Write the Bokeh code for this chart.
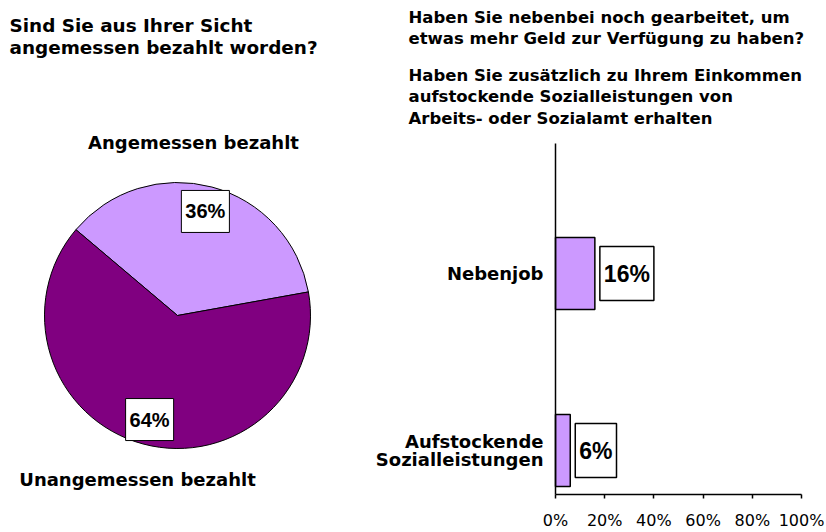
import math
from bokeh.plotting import figure
from bokeh.models import (Range1d, Label, FixedTicker, PrintfTickFormatter,
                          ColumnDataSource, LinearAxis)
from bokeh.embed import file_html
from bokeh.resources import INLINE

# ---------------- data ----------------
pie_title = ["Sind Sie aus Ihrer Sicht", "angemessen bezahlt worden?"]
pie_cats = ["Angemessen bezahlt", "Unangemessen bezahlt"]
pie_vals = [36, 64]
pie_colors = ["#CC99FF", "#800080"]

bar_title1 = ["Haben Sie nebenbei noch gearbeitet, um",
              "etwas mehr Geld zur Verfügung zu haben?"]
bar_title2 = ["Haben Sie zusätzlich zu Ihrem Einkommen",
              "aufstockende Sozialleistungen von",
              "Arbeits- oder Sozialamt erhalten"]
bar_cats = ["Nebenjob", "Aufstockende\nSozialleistungen"]
bar_vals = [16, 6]
x_ticks = [0, 20, 40, 60, 80, 100]

BOLD = "DejaVu Sans"
PCT = "Liberation Sans"

W, H = 826, 532

# one canvas; default ranges are page pixels (y up)
p = figure(width=W, height=H, x_range=Range1d(0, W), y_range=Range1d(0, H),
           output_backend="svg", toolbar_location=None, min_border=0,
           x_axis_location=None, y_axis_location=None)
p.xgrid.grid_line_color = None
p.ygrid.grid_line_color = None
p.outline_line_color = None


def py(sy):  # page row -> canvas data y
    return H - sy


# bar-chart scales: 0% at x=555, 100% at x=801; categories 177px apart
PX0, PX100 = 555, 801
kx = (PX100 - PX0) / 100.0
p.extra_x_ranges["pct"] = Range1d(-PX0 / kx, (W - PX0) / kx)
CAT0_Y, CAT_STEP = 450, 177      # page row of category 0 centre, px per category
p.extra_y_ranges["cat"] = Range1d((CAT0_Y - H) / CAT_STEP, CAT0_Y / CAT_STEP)
AX_BOTTOM = (CAT0_Y - 494) / CAT_STEP
AX_TOP = (CAT0_Y - 143) / CAT_STEP

# ---------------- pie ----------------
cx, cy, R = 177, py(315), 133
start_deg = 139.8
total = sum(pie_vals)
cum = 0
starts, ends = [], []
for v in pie_vals:
    starts.append(math.radians(start_deg - 360 * cum / total))
    cum += v
    ends.append(math.radians(start_deg - 360 * cum / total))
src = ColumnDataSource(dict(start=starts, end=ends, color=pie_colors))
p.wedge(x=cx, y=cy, radius=R, start_angle="start", end_angle="end",
        direction="clock", fill_color="color", line_color="black",
        line_width=1, source=src)

for a0, a1, v in zip(starts, ends, pie_vals):
    mid = (a0 + a1) / 2
    p.add_layout(Label(x=cx + 0.81 * R * math.cos(mid), y=cy + 0.81 * R * math.sin(mid),
                       text=f"{v}%", text_align="center", text_baseline="middle",
                       text_font=PCT, text_font_size="20px", text_font_style="bold",
                       text_color="black", background_fill_color="white",
                       border_line_color="black", border_line_width=1,
                       padding=(4, 10)))

for t, sy in zip(pie_title, [25, 47]):
    p.add_layout(Label(x=9, y=py(sy), text=t, text_font=BOLD,
                       text_font_size="18.4px", text_font_style="bold",
                       text_color="black", text_baseline="middle"))
for t, sx, sy in zip(pie_cats, [193, 137], [142, 479]):
    p.add_layout(Label(x=sx, y=py(sy), text=t, text_align="center",
                       text_font=BOLD, text_font_size="18px", text_font_style="bold",
                       text_color="black", text_baseline="middle"))

# ---------------- bars ----------------
bar_pos = list(range(len(bar_cats)))[::-1]
p.hbar(y=bar_pos, right=bar_vals, left=0, height=0.407,
       fill_color="#CC99FF", line_color="black", line_width=1.5,
       x_range_name="pct", y_range_name="cat")

for pos, v in zip(bar_pos, bar_vals):
    p.add_layout(Label(x=v, y=pos, x_range_name="pct", y_range_name="cat",
                       x_offset=5, text=f"{v}%", text_align="left",
                       text_baseline="middle", text_font=PCT, text_font_size="23px",
                       text_font_style="bold", text_color="black",
                       background_fill_color="white", border_line_color="black",
                       border_line_width=1.5, padding=(4, 14)))

xa = LinearAxis(x_range_name="pct", y_range_name="cat", fixed_location=AX_BOTTOM,
                bounds=(0, 100))
xa.ticker = FixedTicker(ticks=x_ticks)
xa.formatter = PrintfTickFormatter(format="%d%%")
xa.major_tick_out = 4
xa.major_tick_in = 0
xa.minor_tick_line_color = None
xa.axis_line_color = "black"
xa.axis_line_width = 1.5
xa.major_tick_line_color = "black"
xa.major_tick_line_width = 1.5
xa.major_label_text_font = "DejaVu Sans"
xa.major_label_text_font_size = "16px"
xa.major_label_text_color = "black"
xa.major_label_standoff = 12
p.add_layout(xa, "below")

ya = LinearAxis(x_range_name="pct", y_range_name="cat", fixed_location=0,
                bounds=(AX_BOTTOM, AX_TOP))
ya.ticker = FixedTicker(ticks=bar_pos)
ya.major_label_overrides = {pos: c for pos, c in zip(bar_pos, bar_cats)}
ya.major_tick_out = 0
ya.major_tick_in = 0
ya.major_tick_line_color = None
ya.minor_tick_line_color = None
ya.axis_line_color = "black"
ya.axis_line_width = 1.5
ya.major_label_text_font = BOLD
ya.major_label_text_font_size = "18px"
ya.major_label_text_font_style = "bold"
ya.major_label_text_color = "black"
ya.major_label_text_line_height = 0.9
ya.major_label_standoff = 12
p.add_layout(ya, "left")

for t, sy in zip(bar_title1 + bar_title2, [16.5, 38, 74.7, 96, 117.5]):
    p.add_layout(Label(x=408, y=py(sy), text=t, text_font=BOLD,
                       text_font_size="16.5px", text_font_style="bold",
                       text_color="black", text_baseline="middle"))

open("out.html", "w").write(file_html(p, INLINE))
